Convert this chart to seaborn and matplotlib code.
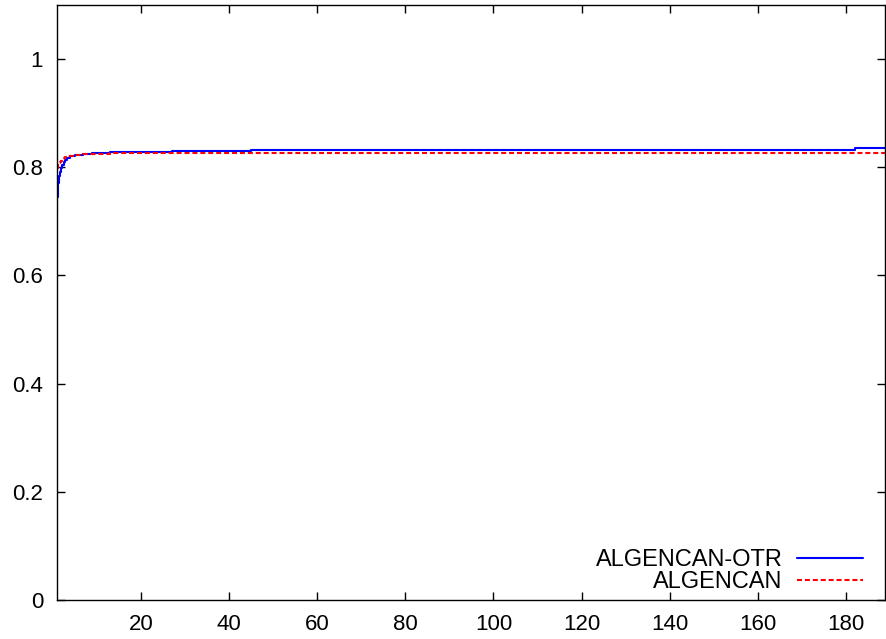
import pandas as pd
import matplotlib
matplotlib.use("Agg")
import matplotlib.pyplot as plt
import seaborn as sns

# performance profile values
otr_x = [1, 1.1, 1.2, 1.3, 1.5, 1.7, 1.9, 2.2, 2.5, 2.8, 3.3, 3.9, 5, 6.9, 9, 13, 27, 45, 182, 189]
otr_y = [0.718, 0.745, 0.760, 0.771, 0.783, 0.792, 0.798, 0.805, 0.809, 0.813, 0.817, 0.821, 0.823,
         0.824, 0.826, 0.828, 0.8305, 0.8324, 0.835, 0.835]

alg_x = [1, 1.15, 1.3, 1.5, 1.7, 1.9, 2.2, 2.5, 2.8, 3.5, 4.6, 7, 13, 189]
alg_y = [0.798, 0.801, 0.804, 0.807, 0.810, 0.812, 0.815, 0.817, 0.819, 0.821, 0.823, 0.824, 0.826, 0.826]

x_ticks = [20, 40, 60, 80, 100, 120, 140, 160, 180]
y_ticks = [0, 0.2, 0.4, 0.6, 0.8, 1]
y_labels = ["0", "0.2", "0.4", "0.6", "0.8", "1"]

sns.set_style("ticks")
plt.rcParams["font.family"] = ["Liberation Sans", "DejaVu Sans"]
plt.rcParams["text.color"] = "black"
plt.rcParams["xtick.color"] = "black"
plt.rcParams["ytick.color"] = "black"
plt.rcParams["axes.edgecolor"] = "black"

fig = plt.figure(figsize=(8.86, 6.39), dpi=100)
ax = fig.add_axes([57 / 886, 39 / 639, 828 / 886, 595 / 639])

df_otr = pd.DataFrame({"x": otr_x, "y": otr_y})
df_alg = pd.DataFrame({"x": alg_x, "y": alg_y})

sns.lineplot(data=df_otr, x="x", y="y", ax=ax, color="#0000ff", lw=1.5,
             drawstyle="steps-post", label="ALGENCAN-OTR")
sns.lineplot(data=df_alg, x="x", y="y", ax=ax, color="#ff0000", lw=1.5,
             drawstyle="steps-post", label="ALGENCAN")
ax.lines[1].set_dashes((2.4, 1.4))

ax.set_xlim(1, 188.8)
ax.set_ylim(0, 1.1)
ax.set_xticks(x_ticks)
ax.set_xticklabels([str(t) for t in x_ticks])
ax.set_yticks(y_ticks)
ax.set_yticklabels(y_labels)
ax.set_xlabel("")
ax.set_ylabel("")
ax.tick_params(direction="in", length=6, width=1, labelsize=16,
               top=True, right=True, pad=10, colors="black")
for s in ax.spines.values():
    s.set_linewidth(1.0)
    s.set_color("black")

leg = ax.legend(loc="lower right", bbox_to_anchor=(0.973, 0.012), frameon=False,
                markerfirst=False, fontsize=17, handlelength=2.8, handletextpad=0.6,
                labelspacing=0.0, borderpad=0, borderaxespad=0)
leg.get_lines()[1].set_dashes((2.4, 1.4))

fig.savefig("out.png", dpi=100)
